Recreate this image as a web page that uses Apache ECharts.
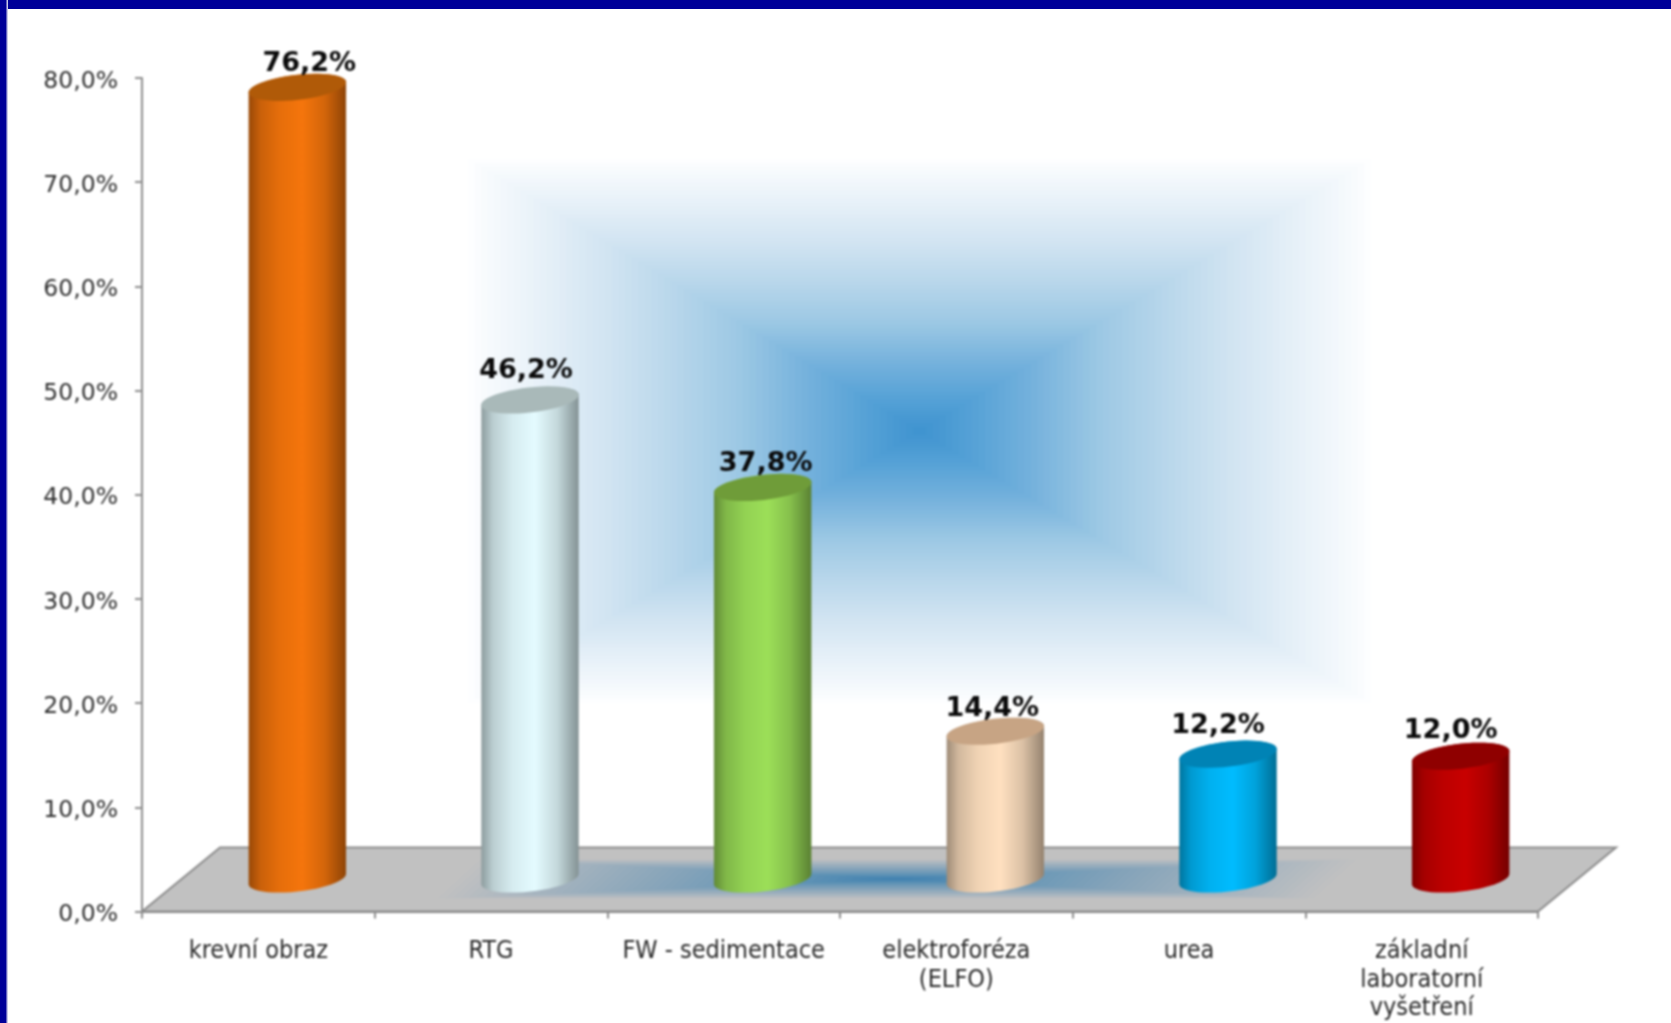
<!DOCTYPE html>
<html>
<head>
<meta charset="utf-8">
<style>
html,body{margin:0;padding:0;background:#fff;overflow:hidden}
#chart{position:absolute;left:0;top:0;width:1671px;height:1023px;filter:blur(0.9px)}
#top{position:absolute;left:0;top:0;width:1671px;height:9px;background:#000099}
#left{position:absolute;left:0;top:0;width:6px;height:1023px;background:#000099;border-right:1px solid #6666c0;box-shadow:1px 0 0 #c8c8e8}
</style>
<script src="https://cdn.jsdelivr.net/npm/echarts@6/dist/echarts.min.js"></script>
</head>
<body>
<div id="chart"></div><div id="top"></div><div id="left"></div>
<script>
var categories = ['krevní obraz', 'RTG', 'FW - sedimentace', 'elektroforéza\n(ELFO)', 'urea', 'základní\nlaboratorní\nvyšetření'];
var values = [76.2, 46.2, 37.8, 14.4, 12.2, 12.0];
var yTicks = [0, 10, 20, 30, 40, 50, 60, 70, 80];
var sideColors = ['#f5750c', '#e4fbff', '#9cdf58', '#ffe0c0', '#00bcff', '#c80000'];
var lidColors = ['#b05a08', '#a9b9b9', '#6f9c39', '#c7a484', '#0083b5', '#8f0000'];
var labelNudgeX = [12, -4, 3, -3, -10, -10];
var labelNudgeY = [-23, -29, -23, -22, -28, -25];

var DEPTH_X = 78, DEPTH_Y = 64;
var BASE_X = 39, BASE_Y = 32.5, TOP_Y = 30.2;
var RX = 49, RY = 12.5, TILT = -6.5 * Math.PI / 180;

function fmt(v) { return v.toFixed(1).replace('.', ',') + '%'; }
function hex(c) { return [1, 3, 5].map(function (i) { return parseInt(c.substr(i, 2), 16); }); }
function rgb(a) { return 'rgb(' + a.map(Math.round).join(',') + ')'; }
function shade(c, f) { return rgb(hex(c).map(function (v) { return v * f; })); }
function ramp(stops, f) {
  for (var i = 1; i < stops.length; i++) {
    if (f <= stops[i][0]) {
      var a = stops[i - 1], b = stops[i], t = (f - a[0]) / (b[0] - a[0]);
      var ca = hex(a[1]), cb = hex(b[1]);
      return rgb(ca.map(function (v, k) { return v + (cb[k] - v) * t; }));
    }
  }
  return stops[stops.length - 1][1];
}
function ePoint(cx, cy, t) {
  var c = Math.cos(t), s = Math.sin(t), cr = Math.cos(TILT), sr = Math.sin(TILT);
  return [cx + RX * c * cr - RY * s * sr, cy + RX * c * sr + RY * s * cr];
}
function arc(cx, cy, t0, t1, n) {
  var out = [];
  for (var i = 0; i <= n; i++) out.push(ePoint(cx, cy, t0 + (t1 - t0) * i / n));
  return out;
}

var skyStops = [[0, '#3d92cf'], [0.12, '#55a1d6'], [0.25, '#74b1dc'], [0.4, '#9cc8e4'], [0.55, '#b9d7eb'], [0.7, '#d3e5f2'], [0.85, '#e9f2f9'], [0.97, '#fafcfe'], [1, '#ffffff']];
var floorStops = [[0, '#3e80b0'], [0.25, '#6495b6'], [0.55, '#8aa6ba'], [0.85, '#aeb8c0'], [1, '#c1c1c1']];

var sky = [];
for (var i = 0; i <= 70; i++) {
  var f = 1 - i / 70;
  sky.push({
    type: 'rect', z: -10, silent: true,
    shape: { x: 919.5 - 458 * f, y: 431 - 276 * f, width: 916 * f, height: 552 * f },
    style: { fill: ramp(skyStops, f) }
  });
}

function renderFloor(params, api) {
  var cs = params.coordSys;
  var y0 = cs.y + cs.height, x0 = cs.x, x1 = cs.x + cs.width;
  var kids = [{
    type: 'polygon',
    shape: { points: [[x0, y0], [x1, y0], [x1 + DEPTH_X, y0 - DEPTH_Y], [x0 + DEPTH_X, y0 - DEPTH_Y]] },
    style: { fill: '#c1c1c1', stroke: '#8c8c8c', lineWidth: 2 }
  }];
  var cx = 897, cy = 879, hw = 445, hh = 20, sk = 22;
  for (var i = 0; i <= 60; i++) {
    var f = 1 - i / 60;
    kids.push({
      type: 'polygon',
      shape: { points: [
        [cx - hw * f - sk * f, cy + hh * f],
        [cx + hw * f - sk * f, cy + hh * f],
        [cx + hw * f + sk * f, cy - hh * f],
        [cx - hw * f + sk * f, cy - hh * f]
      ] },
      style: { fill: ramp(floorStops, f) }
    });
  }
  return { type: 'group', children: kids };
}

function renderCylinder(params, api) {
  var idx = api.value(0), val = api.value(1);
  var base = api.coord([idx, 0]);
  var top = api.coord([idx, val]);
  var cx = base[0] + BASE_X, by = base[1] - BASE_Y, ty = top[1] - TOP_Y;
  var t0 = Math.atan(-(RY / RX) * Math.tan(TILT));
  var body = arc(cx, by, t0, t0 + Math.PI, 24).concat(arc(cx, ty, t0 + Math.PI, t0 + 2 * Math.PI, 24));
  var c = sideColors[idx];
  return {
    type: 'group',
    children: [
      {
        type: 'polygon', shape: { points: body },
        style: {
          fill: {
            type: 'linear', x: 0, y: 0, x2: 1, y2: 0,
            colorStops: [
              { offset: 0, color: shade(c, 0.62) },
              { offset: 0.12, color: shade(c, 0.82) },
              { offset: 0.32, color: shade(c, 0.94) },
              { offset: 0.55, color: c },
              { offset: 0.78, color: shade(c, 0.86) },
              { offset: 1, color: shade(c, 0.58) }
            ]
          }
        }
      },
      {
        type: 'polygon', shape: { points: arc(cx, ty, 0, 2 * Math.PI, 48) },
        style: { fill: lidColors[idx] }
      },
      {
        type: 'text',
        style: {
          text: fmt(val), x: cx + labelNudgeX[idx], y: ty + labelNudgeY[idx],
          align: 'center', verticalAlign: 'middle',
          font: 'bold 27px "DejaVu Sans"', fill: '#0a0a0a'
        }
      }
    ]
  };
}

var chart = echarts.init(document.getElementById('chart'), null, { renderer: 'canvas' });
chart.setOption({
  animation: false,
  backgroundColor: '#ffffff',
  graphic: { elements: sky },
  grid: { left: 142, right: 133, top: 78, bottom: 111.3, containLabel: false },
  xAxis: {
    type: 'category', data: categories,
    axisLine: { lineStyle: { color: '#8c8c8c', width: 2 } },
    axisTick: { show: true, length: 7, lineStyle: { color: '#8c8c8c', width: 2 } },
    axisLabel: {
      interval: 0, margin: 26, lineHeight: 28.5, verticalAlign: 'top',
      fontFamily: '"DejaVu Sans Condensed","DejaVu Sans"', fontSize: 25, color: '#2a2a2a'
    },
    splitLine: { show: false }
  },
  yAxis: {
    type: 'value', min: yTicks[0], max: yTicks[yTicks.length - 1], interval: yTicks[1] - yTicks[0],
    axisLine: { show: true, lineStyle: { color: '#8c8c8c', width: 2 } },
    axisTick: { show: true, length: 7, lineStyle: { color: '#8c8c8c', width: 2 } },
    axisLabel: {
      margin: 24, fontFamily: '"DejaVu Sans"', fontSize: 23.5, color: '#2e2e2e',
      verticalAlign: 'top', lineHeight: 7,
      formatter: function (v) { return fmt(v); }
    },
    splitLine: { show: false }
  },
  series: [
    { type: 'custom', z: 1, clip: false, silent: true, renderItem: renderFloor, data: [[0, 0]], encode: { x: 0, y: 1 } },
    {
      type: 'custom', z: 3, clip: false, silent: true, renderItem: renderCylinder,
      data: values.map(function (v, i) { return [i, v]; }), encode: { x: 0, y: 1 }
    }
  ]
});
</script>
</body>
</html>
